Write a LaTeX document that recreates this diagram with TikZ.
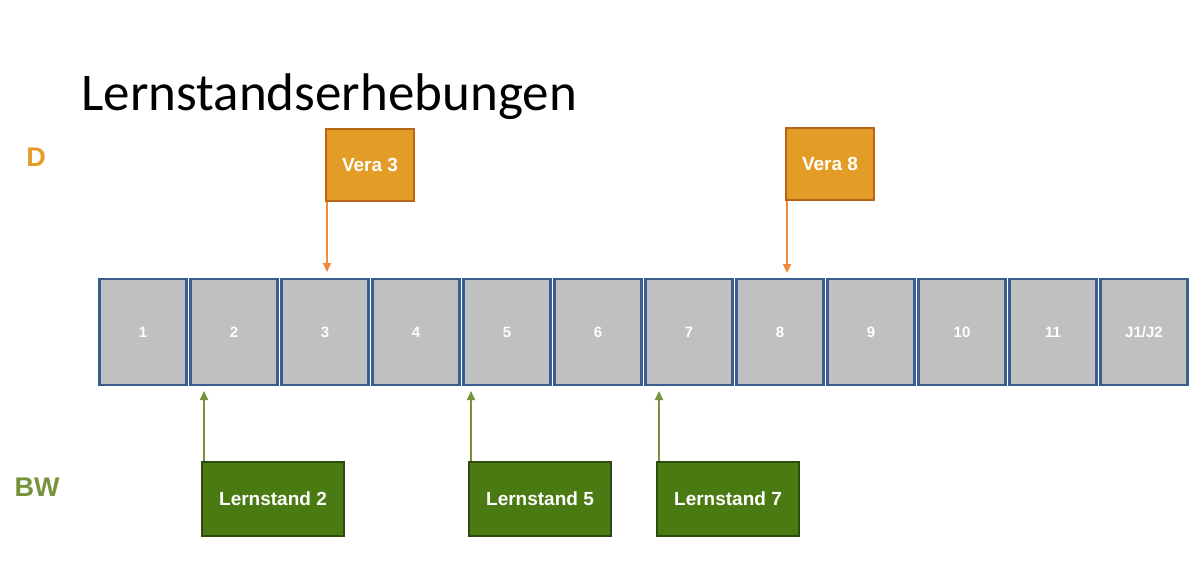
\documentclass[tikz,border=0pt]{standalone}
\usepackage{fontspec}
\setmainfont{Carlito}
\newfontfamily\boxfont{Liberation Sans}
\usetikzlibrary{positioning}
\usetikzlibrary{calc}
\usetikzlibrary{arrows.meta}
\definecolor{cellgray}{HTML}{C0C0C0}
\definecolor{cellblue}{HTML}{3A5F8F}
\definecolor{veraorange}{HTML}{E39D26}
\definecolor{veraedge}{HTML}{B8651A}
\definecolor{veraarrow}{HTML}{F08A3C}
\definecolor{lsgreen}{HTML}{4A7A12}
\definecolor{lsedge}{HTML}{2E4A0E}
\definecolor{lsarrow}{HTML}{76933C}
\tikzset{>={Triangle[length=9pt,width=8pt]}}
\tikzset{cell/.style={draw=cellblue, line width=2.5pt, fill=cellgray, minimum width=87pt, minimum height=106pt, inner sep=0pt, text=white, font=\boxfont\bfseries\fontsize{15}{15}\selectfont}}
\tikzset{vera/.style={draw=veraedge, line width=2pt, fill=veraorange, minimum width=88pt, minimum height=72pt, text=white, font=\boxfont\bfseries\fontsize{19}{19}\selectfont}}
\tikzset{lstand/.style={draw=lsedge, line width=2pt, fill=lsgreen, minimum width=142pt, minimum height=74pt, text=white, font=\boxfont\bfseries\fontsize{19}{19}\selectfont}}
\begin{document}
\begin{tikzpicture}[x=1pt,y=-1pt]
\useasboundingbox (0,0) rectangle (1195,582);

\node[anchor=base west, font=\fontsize{53}{53}\selectfont] (title) at (78,110) {Lernstandserhebungen};
\node[text=veraorange, font=\boxfont\bfseries\fontsize{27}{27}\selectfont] (D) at (36,157) {D};
\node[text=lsarrow, font=\boxfont\bfseries\fontsize{27}{27}\selectfont] (BW) at (37,487) {BW};

%%% Years:
\foreach \lab [count=\i] in {1,2,3,4,5,6,7,8,9,10,11,J1/J2}
  \node[cell] (c\i) at ({52+91*\i},332) {\lab};

%%% D:
\node[vera] (v3) at (370,165) {Vera 3};
\node[vera] (v8) at (830,164) {Vera 8};
\draw[->, veraarrow, line width=2pt] ($(v3.south west)+(2,0)$) -- ($(v3.south west)+(2,70)$);
\draw[->, veraarrow, line width=2pt] ($(v8.south west)+(2,0)$) -- ($(v8.south west)+(2,72)$);

%%% BW:
\node[lstand] (l2) at (273,499) {Lernstand 2};
\node[lstand] (l5) at (540,499) {Lernstand 5};
\node[lstand] (l7) at (728,499) {Lernstand 7};
\foreach \n in {l2,l5,l7}
  \draw[->, lsarrow, line width=2pt] ($(\n.north west)+(3,0)$) -- ($(\n.north west)+(3,-70)$);
\end{tikzpicture}
\end{document}
